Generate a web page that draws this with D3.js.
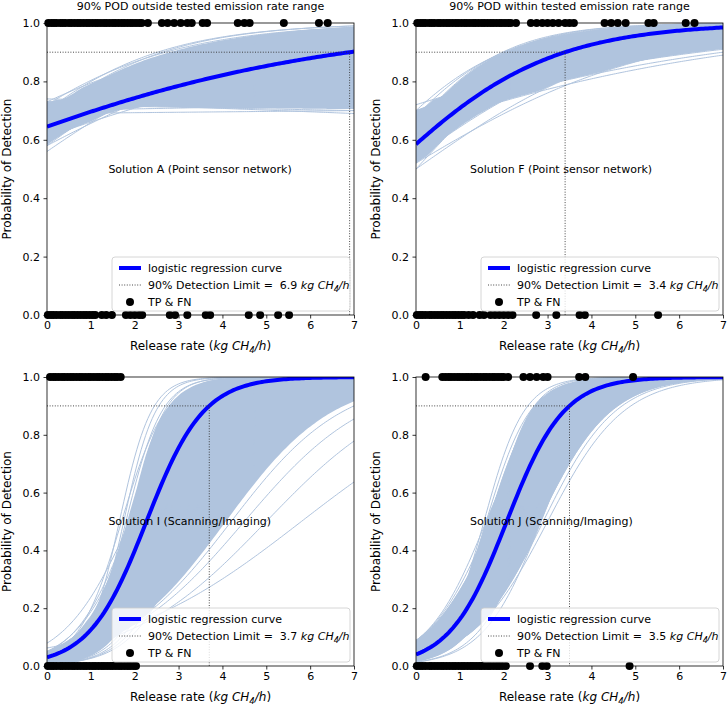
<!DOCTYPE html>
<html><head><meta charset="utf-8">
<script src="https://cdn.jsdelivr.net/npm/d3@7"></script>
<style>body{margin:0;background:#fff} text{font-family:"DejaVu Sans",sans-serif; white-space:pre}</style>
</head><body><svg id="c" width="727" height="707"></svg>
<script>
// ---------------- data ----------------
const xTicks = [0,1,2,3,4,5,6,7];
const yTicks = [0,0.2,0.4,0.6,0.8,1.0];
const yTickLabels = ["0.0","0.2","0.4","0.6","0.8","1.0"];
const titles = ["90% POD outside tested emission rate range", "90% POD within tested emission rate range", "", ""];
const solutions = ["Solution A (Point sensor network)", "Solution F (Point sensor network)", "Solution I (Scanning/Imaging)", "Solution J (Scanning/Imaging)"];
const detectionLimits = [6.9, 3.4, 3.7, 3.5];
// main logistic curve: probability at 0 release rate
const mainP0 = [0.645, 0.585, 0.03, 0.04];

// bootstrap curves, top panels: [POD at 0, POD at 7]
const bootA = [[0.56,0.96],[0.58,0.97],[0.60,0.975],[0.62,0.98],[0.64,0.985],[0.66,0.985],[0.68,0.99],[0.70,0.99],[0.72,0.985],
  [0.58,0.93],[0.60,0.92],[0.62,0.94],[0.63,0.90],[0.65,0.91],[0.66,0.93],[0.67,0.88],[0.68,0.95],[0.69,0.86],[0.70,0.90],[0.71,0.84],[0.72,0.88],[0.64,0.89],[0.61,0.88],[0.66,0.87],
  [0.70,0.82],[0.71,0.80],[0.72,0.78],[0.73,0.76],[0.72,0.74],[0.71,0.73],[0.70,0.72],[0.69,0.70],[0.72,0.70],[0.73,0.69],[0.70,0.75],[0.68,0.78],[0.67,0.80],[0.69,0.83],[0.74,0.72],
  [0.59,0.95],[0.63,0.96],[0.67,0.97],[0.65,0.94],[0.69,0.92],[0.71,0.95],[0.73,0.97]];
const bootF = [[0.62,0.998],[0.65,0.998],[0.68,0.997],[0.70,0.996],[0.66,0.995],[0.60,0.997],[0.58,0.996],[0.55,0.995],[0.52,0.994],
  [0.50,0.99],[0.53,0.985],[0.56,0.99],[0.58,0.98],[0.60,0.985],[0.62,0.99],[0.64,0.975],[0.66,0.985],[0.68,0.98],[0.56,0.97],[0.60,0.97],[0.63,0.965],[0.65,0.96],[0.58,0.975],
  [0.62,0.95],[0.64,0.94],[0.66,0.93],[0.68,0.92],[0.70,0.91],[0.66,0.90],[0.62,0.92],[0.60,0.94],[0.68,0.95],[0.70,0.94],[0.72,0.93],[0.64,0.89],[0.50,0.95],[0.52,0.93],[0.54,0.96],
  [0.57,0.99],[0.61,0.992],[0.67,0.99],[0.69,0.985],[0.54,0.98]];
// bootstrap curves, bottom panels: [rate at 50% POD, rate at 90% POD]
const bootI = [[1.65,2.45],[1.75,2.55],[1.8,2.7],[1.9,2.75],[2.0,2.9],[1.7,2.8],[1.85,3.0],[2.05,3.1],
  [2.1,3.3],[2.2,3.4],[2.3,3.5],[2.4,3.6],[2.5,3.7],[2.2,3.8],[2.3,3.9],[2.5,4.0],[2.6,4.1],[2.7,4.2],[2.8,4.3],[2.6,3.9],[2.4,4.2],[2.9,4.5],[3.0,4.6],[2.1,3.6],[2.0,3.5],[1.9,3.3],[1.9,3.6],
  [3.1,4.9],[3.2,5.1],[3.3,5.3],[3.5,5.6],[3.4,5.8],[3.6,6.0],[3.8,6.3],[4.0,6.6],[4.2,7.0],[4.5,7.6],[5.0,8.5],[5.8,10.5],
  [2.15,3.2],[2.35,3.3],[2.55,3.6],[2.75,3.9],[2.9,4.1],[3.1,4.4],[3.3,4.7]];
const bootJ = [[1.55,2.55],[1.6,2.7],[1.65,2.8],[1.7,2.9],[1.75,2.85],[1.8,3.0],[1.85,3.1],[1.9,3.2],[1.95,3.3],[2.0,3.35],[2.05,3.4],[2.1,3.5],[2.15,3.55],[2.2,3.6],[2.25,3.7],[2.3,3.8],
  [2.35,3.9],[2.4,4.0],[2.5,4.1],[2.55,4.2],[2.6,4.3],[2.7,4.4],[2.75,4.5],[2.8,4.6],[2.9,4.7],[3.0,4.9],[1.7,3.3],[1.8,3.5],[1.6,3.1],[2.2,4.0],[2.4,4.4],[2.0,3.8],
  [1.75,2.7],[1.95,3.0],[2.15,3.3],[2.35,3.6],[2.45,3.8],[2.65,4.0],[2.85,4.3]];

// test points: true positives (POD=1) and false negatives (POD=0), release rates
const tpA = [0.03,0.1,0.16,0.22,0.3,0.36,0.42,0.5,0.56,0.63,0.7,0.76,0.83,0.9,0.96,1.03,1.1,1.16,1.23,1.3,1.36,1.43,1.5,1.56,1.63,1.7,1.76,1.83,1.9,1.96,2.03,2.1,2.16,2.3,2.62,2.75,2.9,3.05,3.2,3.3,3.55,3.65,4.35,4.5,4.62,5.4,6.2,6.4];
const fnA = [0.02,0.09,0.15,0.22,0.3,0.36,0.43,0.5,0.57,0.63,0.7,0.77,0.84,0.9,0.97,1.04,1.1,1.25,1.35,1.48,1.8,1.9,2.0,2.1,2.17,2.8,2.92,3.2,3.62,3.72,4.6,4.86,5.27,5.52];
const tpF = [0.03,0.1,0.16,0.22,0.3,0.36,0.42,0.5,0.56,0.63,0.7,0.76,0.83,0.9,0.96,1.03,1.1,1.16,1.23,1.3,1.36,1.43,1.5,1.56,1.63,1.7,1.76,1.83,1.9,1.96,2.03,2.1,2.16,2.28,2.62,2.75,2.88,3.0,3.12,3.25,3.4,3.5,3.6,4.3,4.45,4.6,4.78,5.3,5.42,6.15,6.35];
const fnF = [0.02,0.09,0.15,0.22,0.3,0.36,0.43,0.5,0.57,0.63,0.7,0.77,0.84,0.9,0.97,1.04,1.1,1.2,1.3,1.45,1.55,1.7,1.8,1.9,2.0,2.1,2.2,2.74,3.2,3.73,3.85,5.52];
const tpI = [0.07,0.14,0.2,0.27,0.34,0.4,0.47,0.54,0.6,0.67,0.74,0.8,0.87,0.94,1.0,1.07,1.14,1.2,1.27,1.34,1.4,1.47,1.54,1.6,1.68];
const fnI = [0.02,0.09,0.15,0.22,0.3,0.36,0.43,0.5,0.57,0.63,0.7,0.77,0.84,0.9,0.97,1.04,1.1,1.17,1.24,1.3,1.37,1.44,1.5,1.57,1.64,1.7,1.77,1.84,1.9,1.97,2.03];
const tpJ = [0.22,0.6,0.67,0.74,0.8,0.87,0.94,1.0,1.07,1.14,1.2,1.27,1.34,1.4,1.47,1.54,1.6,1.67,1.74,1.8,1.87,1.94,2.0,2.1,2.45,2.6,2.75,2.9,3.0,3.72,3.86,4.95];
const fnJ = [0.02,0.09,0.15,0.22,0.3,0.36,0.43,0.5,0.57,0.63,0.7,0.77,0.84,0.9,0.97,1.04,1.1,1.17,1.24,1.3,1.37,1.44,1.5,1.57,1.64,1.7,1.77,1.84,1.9,1.97,2.05,2.6,2.88,2.98,4.87];

// ---------------- drawing ----------------
const svg = d3.select("#c");
const LN9 = Math.log(9);
const logit = p => Math.log(p/(1-p));
const fromEnds = ([p0,p7]) => { const b0 = logit(p0); return [b0, (logit(p7)-b0)/7]; };
const fromMid = ([x50,x90]) => { const b1 = LN9/(x90-x50); return [-b1*x50, b1]; };
const geo = [
  {x0:47, x1:354, y0:23, y1:315},
  {x0:416, x1:723, y0:23, y1:315},
  {x0:47, x1:354, y0:377, y1:666},
  {x0:416, x1:723, y0:377, y1:666}];
const boots = [bootA.map(fromEnds), bootF.map(fromEnds), bootI.map(fromMid), bootJ.map(fromMid)];
const bandQ = [0.05, 0.05, 0.08, 0.05];
const tps = [tpA, tpF, tpI, tpJ];
const fns = [fnA, fnF, fnI, fnJ];
const solX = [1.4, 1.23, 1.4, 1.23];
const samples = d3.range(0, 7.0001, 0.05);
const f = ([b0,b1], v) => 1/(1+Math.exp(-(b0+b1*v)));

geo.forEach((g, i) => {
  const x = d3.scaleLinear().domain([0,7]).range([g.x0, g.x1]);
  const y = d3.scaleLinear().domain([0,1]).range([g.y1, g.y0]);
  const clipId = "clip"+i;
  svg.append("clipPath").attr("id", clipId).append("rect")
    .attr("x", g.x0).attr("y", g.y0).attr("width", g.x1-g.x0).attr("height", g.y1-g.y0);
  const plot = svg.append("g");
  const clipped = plot.append("g").attr("clip-path", `url(#${clipId})`);
  const line = d3.line().x(d => x(d[0])).y(d => y(d[1]));
  const curve = b => samples.map(v => [v, f(b, v)]);
  // dense core of the bootstrap bundle
  const q = bandQ[i];
  const band = samples.map(v => {
    const vals = boots[i].map(b => f(b, v)).sort(d3.ascending);
    return [v, d3.quantile(vals, q), d3.quantile(vals, 1-q)];
  });
  clipped.append("path").attr("d", d3.area().x(d => x(d[0])).y0(d => y(d[1])).y1(d => y(d[2]))(band))
    .attr("fill","#b0c4de");
  boots[i].forEach(b => {
    clipped.append("path").attr("d", line(curve(b))).attr("fill","none")
      .attr("stroke","#b0c4de").attr("stroke-width",1);
  });
  const mb0 = logit(mainP0[i]);
  const mb1 = (LN9 - mb0)/detectionLimits[i];
  clipped.append("path").attr("d", line(curve([mb0, mb1]))).attr("fill","none")
    .attr("stroke","#0000ff").attr("stroke-width",4);
  // detection limit lines
  const L = detectionLimits[i];
  plot.append("path").attr("d", `M${x(0)},${y(0.9)}H${x(L)}V${y(0)}`).attr("fill","none")
    .attr("stroke","#333").attr("stroke-width",0.9).attr("stroke-dasharray","1,1.6");
  // axes
  const xa = d3.axisBottom(x).tickValues(xTicks).tickFormat(d3.format("d")).tickSize(3.5).tickPadding(3);
  const ya = d3.axisLeft(y).tickValues(yTicks).tickFormat((d,k) => yTickLabels[k]).tickSize(3.5).tickPadding(3.5);
  const gx = plot.append("g").attr("transform", `translate(0,${g.y1})`).call(xa);
  const gy = plot.append("g").attr("transform", `translate(${g.x0},0)`).call(ya);
  [gx, gy].forEach(a => {
    a.select(".domain").remove();
    a.selectAll("text").attr("font-size",11).attr("font-family","DejaVu Sans").attr("fill","#000");
    a.selectAll("line").attr("stroke","#000").attr("stroke-width",0.8);
  });
  plot.append("rect").attr("x", g.x0).attr("y", g.y0).attr("width", g.x1-g.x0).attr("height", g.y1-g.y0)
    .attr("fill","none").attr("stroke","#000").attr("stroke-width",0.8);
  // points
  plot.append("g").selectAll("circle").data(tps[i]).join("circle")
    .attr("cx", d => x(d)).attr("cy", y(1)).attr("r",4).attr("fill","#000");
  plot.append("g").selectAll("circle").data(fns[i]).join("circle")
    .attr("cx", d => x(d)).attr("cy", y(0)).attr("r",4).attr("fill","#000");
  // solution text
  plot.append("text").attr("x", x(solX[i])).attr("y", y(0.5)).attr("dy","0.35em")
    .attr("font-size",11).text(solutions[i]);
  // title
  if (titles[i]) plot.append("text").attr("x",(g.x0+g.x1)/2).attr("y", g.y0-13)
    .attr("text-anchor","middle").attr("font-size",11).text(titles[i]);
  // x label
  const xl = plot.append("text").attr("x",(g.x0+g.x1)/2).attr("y", g.y1+35)
    .attr("text-anchor","middle").attr("font-size",12);
  xl.append("tspan").text("Release rate (");
  xl.append("tspan").attr("font-style","italic").text("kg CH");
  xl.append("tspan").attr("font-style","italic").attr("font-size",8.5).attr("dy",3).text("4");
  xl.append("tspan").attr("font-style","italic").attr("dy",-3).text("/h");
  xl.append("tspan").text(")");
  // y label
  plot.append("text").attr("transform", `translate(${g.x0-36},${(g.y0+g.y1)/2}) rotate(-90)`)
    .attr("text-anchor","middle").attr("font-size",12).text("Probability of Detection");
  // legend
  const lw = 238, lh = 54;
  const lx = g.x1 - 4 - lw, ly = g.y1 - 4 - lh;
  const lg = plot.append("g");
  lg.append("rect").attr("x",lx).attr("y",ly).attr("width",lw).attr("height",lh).attr("rx",3)
    .attr("fill","#fff").attr("fill-opacity",0.8).attr("stroke","#ccc").attr("stroke-width",0.8);
  const rows = [ly+11, ly+28, ly+45];
  lg.append("line").attr("x1",lx+7).attr("x2",lx+29).attr("y1",rows[0]).attr("y2",rows[0])
    .attr("stroke","#0000ff").attr("stroke-width",4);
  lg.append("line").attr("x1",lx+7).attr("x2",lx+29).attr("y1",rows[1]).attr("y2",rows[1])
    .attr("stroke","#333").attr("stroke-width",0.9).attr("stroke-dasharray","1,1.6");
  lg.append("circle").attr("cx",lx+18).attr("cy",rows[2]).attr("r",4).attr("fill","#000");
  const tx = lx + 36;
  lg.append("text").attr("x",tx).attr("y",rows[0]).attr("dy","0.35em").attr("font-size",11).text("logistic regression curve");
  const t2 = lg.append("text").attr("x",tx).attr("y",rows[1]).attr("dy","0.35em").attr("font-size",11);
  t2.append("tspan").text(`90% Detection Limit =  ${d3.format(".1f")(L)} `);
  t2.append("tspan").attr("font-style","italic").text("kg CH");
  t2.append("tspan").attr("font-style","italic").attr("font-size",8).attr("dy",3).text("4");
  t2.append("tspan").attr("font-style","italic").attr("dy",-3).text("/h");
  lg.append("text").attr("x",tx).attr("y",rows[2]).attr("dy","0.35em").attr("font-size",11).text("TP & FN");
});
</script></body></html>
